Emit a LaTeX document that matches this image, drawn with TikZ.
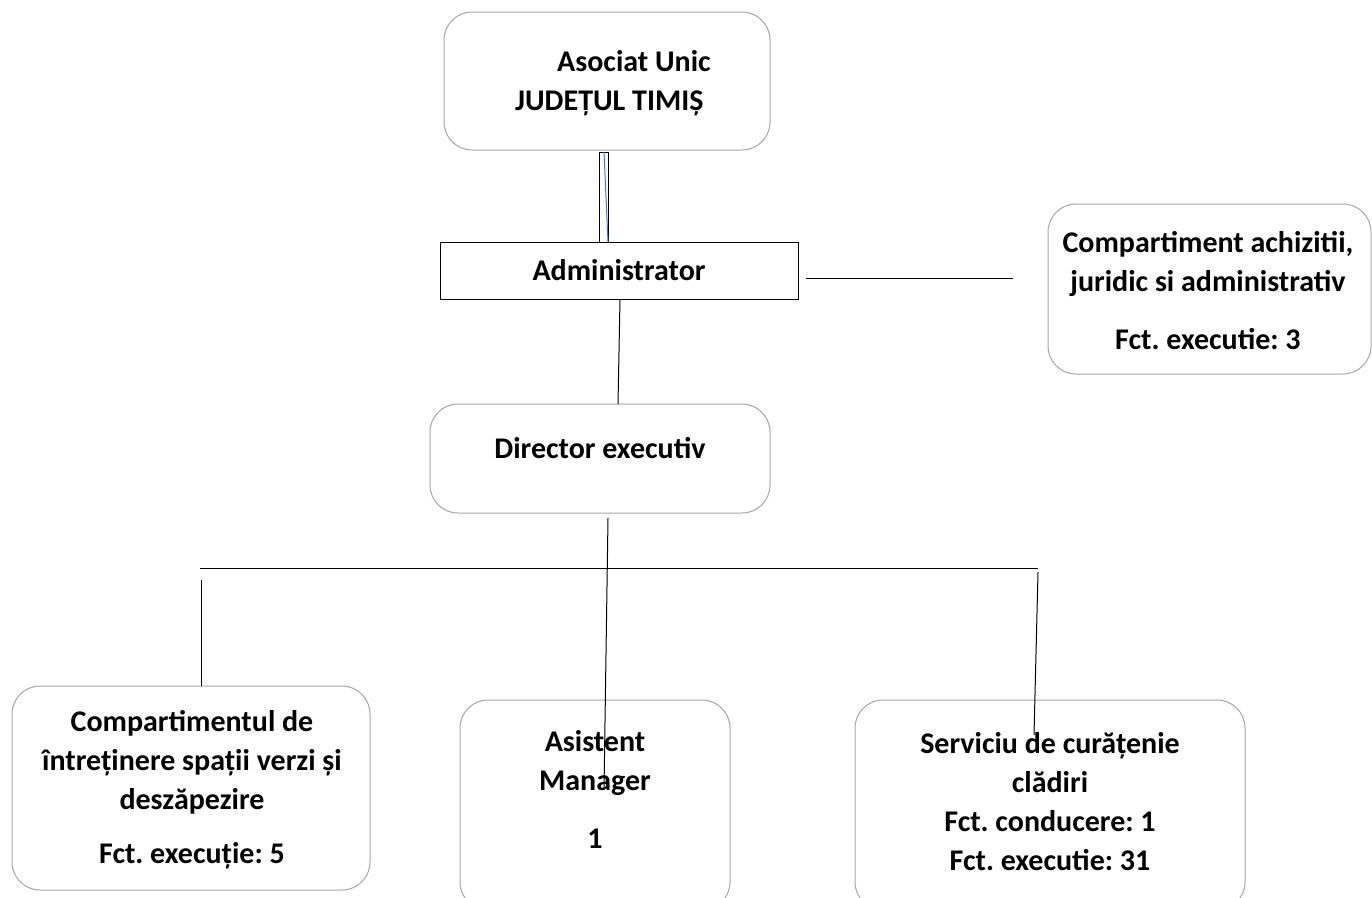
\documentclass[tikz,border=0pt]{standalone}
\usepackage{fontspec}
\setmainfont{Carlito}
\frenchspacing
\definecolor{boxgray}{HTML}{A6A6A6}
\definecolor{linkblue}{HTML}{4472C4}
\tikzset{
  roundbox/.style={draw=boxgray, line width=1pt, rounded corners=28pt, outer sep=0pt},
  plainbox/.style={draw, line width=0.8pt, outer sep=0pt},
  txt/.style={font=\fontsize{30}{39}\selectfont\bfseries, align=center, inner sep=0pt},
  link/.style={line width=1pt}
}
\begin{document}
\begin{tikzpicture}[x=1pt,y=-1pt]
		\useasboundingbox (0,0) rectangle (1372,897);
		\clip (0,0) rectangle (1372,897);
		% boxes
		\node [roundbox, minimum width=326pt, minimum height=138pt](Asociat) at (607,81) {};
		\node [plainbox, minimum width=358pt, minimum height=57pt](Administrator) at (619,270.5) {};
		\node [roundbox, minimum width=323pt, minimum height=170pt](Achizitii) at (1209.5,289) {};
		\node [roundbox, minimum width=340pt, minimum height=109pt](Director) at (600,458.5) {};
		\node [roundbox, minimum width=358pt, minimum height=204pt](Spatii) at (191,788) {};
		\node [roundbox, minimum width=270pt, minimum height=210pt](Asistent) at (595,805) {};
		\node [roundbox, minimum width=390pt, minimum height=210pt](Curatenie) at (1050,805) {};
		% texts
		\node [txt, align=left, anchor=west](tAsociat) at (515,83) {\hspace*{42pt}Asociat Unic\\JUDEȚUL TIMIȘ};
		\node [txt](tAdministrator) at (Administrator.center) {Administrator};
		\node [txt](tAchizitii) at (1208,291) {Compartiment achizitii,\\juridic si administrativ\\[19pt]Fct. executie: 3};
		\node [txt](tDirector) at (600,448) {Director executiv};
		\node [txt](tSpatii) at (192,790) {Compartimentul de\\întreținere spații verzi și\\deszăpezire\\[15pt]Fct. execuție: 5};
		\node [txt](tAsistent) at (595,789) {Asistent\\Manager\\[19pt]1};
		\node [txt](tCuratenie) at (1050,802) {Serviciu de curățenie\\clădiri\\Fct. conducere: 1\\Fct. executie: 31};
		% connectors
		\coordinate (busL) at (200,568);
		\coordinate (busR) at (1038,568);
		\coordinate (achEnd) at (1013,278);
		\coordinate (admStart) at (806,278);
		\draw [link]([xshift=-8pt,yshift=-2pt]Asociat.south) rectangle ([xshift=-11pt]Administrator.north);
		\draw [link, linkblue]([xshift=-3pt,yshift=-2pt]Asociat.south) -- ([xshift=-11pt]Administrator.north);
		\draw [link](admStart) -- (achEnd);
		\draw [link]([xshift=1pt]Administrator.south) -- ([xshift=18pt]Director.north);
		\draw [link](busL) -- (busR);
		\draw [link]([xshift=8pt,yshift=-5pt]Director.south) -- ([xshift=9pt,yshift=-90pt]Asistent.north);
		\draw [link]([xshift=1pt,yshift=-12pt]busL) -- ([xshift=1pt]busL |- Spatii.north);
		\draw [link]([yshift=-4pt]busR) -- ([xshift=-16pt,yshift=-35pt]Curatenie.north);
	\end{tikzpicture}
\end{document}
